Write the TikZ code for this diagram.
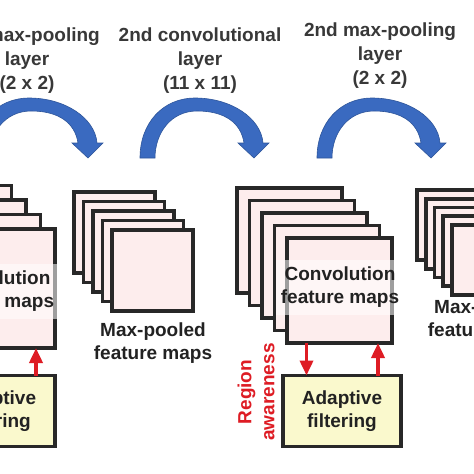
\documentclass[tikz,border=0pt]{standalone}
\usepackage{fontspec}
\setmainfont{Liberation Sans}
\usetikzlibrary{arrows.meta}
\definecolor{fm}{RGB}{253,237,237}
\definecolor{af}{RGB}{250,249,205}
\definecolor{bl}{RGB}{58,106,192}
\definecolor{rd}{RGB}{222,28,36}
\definecolor{tx}{RGB}{34,34,34}
\definecolor{bd}{RGB}{40,40,40}
\begin{document}
\begin{tikzpicture}[x=1pt,y=-1pt,
  fmap/.style={draw=bd, fill=fm, line width=3.8pt, minimum size=#1, inner sep=0pt, outer sep=0pt, anchor=north west},
  fnt/.style={font=\fontsize{19}{23}\selectfont\bfseries, align=center, text=tx, inner sep=0pt},
  lbl/.style={font=\fontsize{19}{24}\selectfont\bfseries, align=center, text=tx!90!white, inner sep=0pt},
  txbox/.style={fnt, fill=white, fill opacity=0.55, text opacity=1, minimum width=128pt, minimum height=55pt},
  afbox/.style={fnt, draw=bd, fill=af, line width=3.8pt, minimum width=118pt, minimum height=71pt, outer sep=0pt},
  redarr/.style={draw=rd, line width=3.6pt, -{Triangle[length=15pt,width=13pt]}},
  curvarr/.pic={
    \fill[bl, draw=bl!80!black, line width=0.6pt]
      (-63,0) .. controls (-63,-35) and (-40,-60) .. (-8,-60)
      .. controls (28,-60) and (58,-40) .. (60,-15)
      -- (66,-15) -- (51,0) -- (35,-15) -- (41,-15)
      .. controls (38,-35) and (22,-47) .. (-6,-47)
      .. controls (-32,-47) and (-48,-25) .. (-48,0) -- cycle;
  }]
\useasboundingbox (0,0) rectangle (474,474);
\fill[white] (0,0) rectangle (474,474);

% top labels
\node[lbl] (l1) at (27,61) {1st max-pooling\\layer\\(2 x 2)};
\node[lbl] (l2) at (200,61) {2nd convolutional\\layer\\(11 x 11)};
\node[lbl] (l3) at (380,56) {2nd max-pooling\\layer\\(2 x 2)};

% blue curved arrows
\pic (b1) at (37,158) {curvarr};
\pic (b2) at (203,158) {curvarr};
\pic (b3) at (380,158) {curvarr};

% 1st convolution feature maps (cut at left)
\foreach \i in {0,...,4}
  \node[fmap=119pt] (c1s\i) at (-122+14.5*\i,171+14.5*\i) {};
\node[txbox] (c1t) at (-5,291) {Convolution\\feature maps};
\node[afbox] (a1) at (-4,411) {Adaptive\\filtering};
\draw[redarr] ([xshift=40pt]a1.north) -- ([xshift=40pt]a1.north |- c1s4.south);

% 1st max-pooled maps
\foreach \i in {0,...,4}
  \node[fmap=81pt] (p1s\i) at (74+9.5*\i,192+9.5*\i) {};
\node[fnt] (p1t) at (153,343) {Max-pooled\\feature maps};

% 2nd convolution feature maps
\foreach \i in {0,...,4}
  \node[fmap=105pt] (c2s\i) at (237+12.5*\i,188+12.5*\i) {};
\node[txbox] (c2t) at (340,287) {Convolution\\feature maps};
\node[afbox] (a2) at (342,411) {Adaptive\\filtering};
\draw[redarr] ([xshift=-33pt]c2s4.south) -- ([xshift=-33pt]c2s4.south |- a2.north);
\draw[redarr] ([xshift=36pt]a2.north) -- ([xshift=36pt]a2.north |- c2s4.south);
\node[fnt, text=rd, rotate=90] (ra) at (256,392) {Region\\awareness};

% 2nd max-pooled maps (cut at right)
\foreach \i in {0,...,4}
  \node[fmap=70pt] (p2s\i) at (417+8.75*\i,190+8.75*\i) {};
\node[fnt] (p2t) at (487,320) {Max-pooled\\feature maps};
\end{tikzpicture}
\end{document}
